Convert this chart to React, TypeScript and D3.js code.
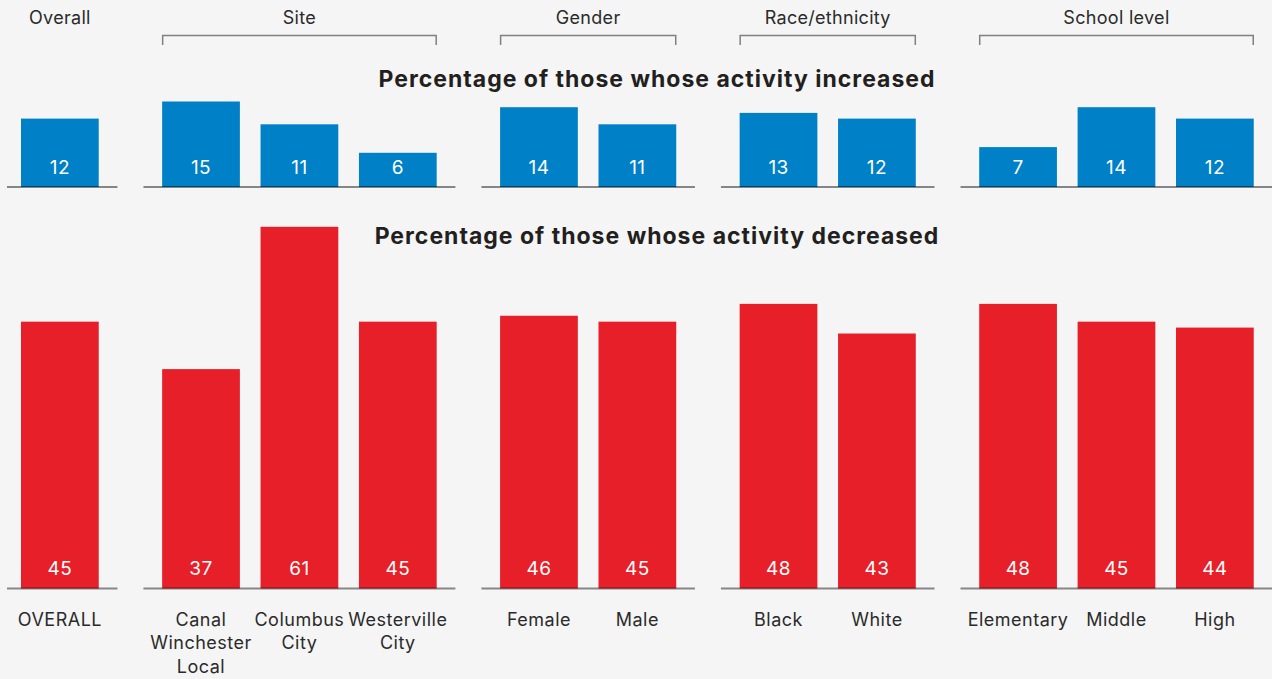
import React from "react";
import * as d3 from "d3";

const groups = ["Overall", "Site", "Gender", "Race/ethnicity", "School level"];
const categoryLines = [
  ["OVERALL"],
  ["Canal", "Winchester", "Local"],
  ["Columbus", "City"],
  ["Westerville", "City"],
  ["Female"],
  ["Male"],
  ["Black"],
  ["White"],
  ["Elementary"],
  ["Middle"],
  ["High"],
];
const categoryGroup = [0, 1, 1, 1, 2, 2, 3, 3, 4, 4, 4];
const increased = [12, 15, 11, 6, 14, 11, 13, 12, 7, 14, 12];
const decreased = [45, 37, 61, 45, 46, 45, 48, 43, 48, 45, 44];
const titles = [
  "Percentage of those whose activity increased",
  "Percentage of those whose activity decreased",
];

const W = 1272;
const H = 679;
const FONT = "Inter, 'Noto Sans', sans-serif";
const BLUE = "#0080c6";
const RED = "#e61f28";
const BG = "#f4f5f4";
const TEXT = "#2b2b2b";

export default function App() {
  const gapFrac = 0.4345;
  const nGroups = groups.length;
  const slot = categoryGroup.map((g, i) => i + g * gapFrac);
  const x = d3
    .scaleLinear()
    .domain([0, categoryGroup.length - 1 + (nGroups - 1) * gapFrac])
    .range([21, 1176]);
  const step = x(1) - x(0);
  const bw = step * 0.79;

  const topBase = 187;
  const botBase = 588.5;
  const yTop = d3.scaleLinear().domain([0, 15]).range([topBase, topBase - 85.5]);
  const yBot = d3.scaleLinear().domain([0, 61]).range([botBase, botBase - 361.7]);

  const groupInfo = groups.map((name, g) => {
    const idx = categoryGroup.map((cg, i) => (cg === g ? i : -1)).filter((i) => i >= 0);
    const x0 = x(slot[idx[0]]);
    const x1 = x(slot[idx[idx.length - 1]]) + bw;
    return { name, idx, x0, x1 };
  });
  const lineExtents = groupInfo.map((gi, g) => {
    const left = g === 0 ? 7 : (groupInfo[g - 1].x1 + gi.x0) / 2 + 13;
    const right = g === nGroups - 1 ? W : (gi.x1 + groupInfo[g + 1].x0) / 2 - 13;
    return [left, right];
  });

  const panel = (vals: number[], y: d3.ScaleLinear<number, number>, base: number, color: string) => (
    <g>
      {vals.map((v, i) => (
        <g key={i}>
          <rect x={x(slot[i])} y={y(v)} width={bw} height={base - y(v)} fill={color} />
          <text
            x={x(slot[i]) + bw / 2}
            y={base - 13.5}
            textAnchor="middle"
            fill="#ffffff"
            fontSize={19}
            fontFamily={FONT}
            letterSpacing={0.4}
          >
            {v}
          </text>
        </g>
      ))}
      {lineExtents.map(([a, b], g) => (
        <line key={g} x1={a} x2={b} y1={base} y2={base} stroke="rgba(0,0,0,0.45)" strokeWidth={2} />
      ))}
    </g>
  );

  return (
    <div style={{ position: "fixed", left: 0, top: 0 }}>
      <svg width={W} height={H} style={{ display: "block" }}>
        <rect width={W} height={H} fill={BG} />
        {groupInfo.map((gi, g) => (
          <g key={g}>
            <text
              x={(gi.x0 + gi.x1) / 2}
              y={24}
              textAnchor="middle"
              fill={TEXT}
              fontSize={18}
              fontFamily={FONT}
              letterSpacing={0.3}
            >
              {gi.name}
            </text>
            {gi.idx.length > 1 && (
              <path
                d={`M${gi.x0 + 0.5},45V35.5H${gi.x1 - 0.5}V45`}
                fill="none"
                stroke="#808080"
                strokeWidth={1.5}
              />
            )}
          </g>
        ))}
        {titles.map((t, k) => (
          <text
            key={k}
            x={657}
            y={k === 0 ? 87 : 244}
            textAnchor="middle"
            fill="#231f20"
            fontSize={23}
            fontWeight={700}
            fontFamily={FONT}
            letterSpacing={1}
          >
            {t}
          </text>
        ))}
        {panel(increased, yTop, topBase, BLUE)}
        {panel(decreased, yBot, botBase, RED)}
        {categoryLines.map((lines, i) => (
          <text
            key={i}
            x={x(slot[i]) + bw / 2}
            textAnchor="middle"
            fill={TEXT}
            fontSize={18}
            fontFamily={FONT}
            letterSpacing={0.5}
          >
            {lines.map((l, j) => (
              <tspan key={j} x={x(slot[i]) + bw / 2} y={625.5 + j * 23.6}>
                {l}
              </tspan>
            ))}
          </text>
        ))}
      </svg>
    </div>
  );
}
